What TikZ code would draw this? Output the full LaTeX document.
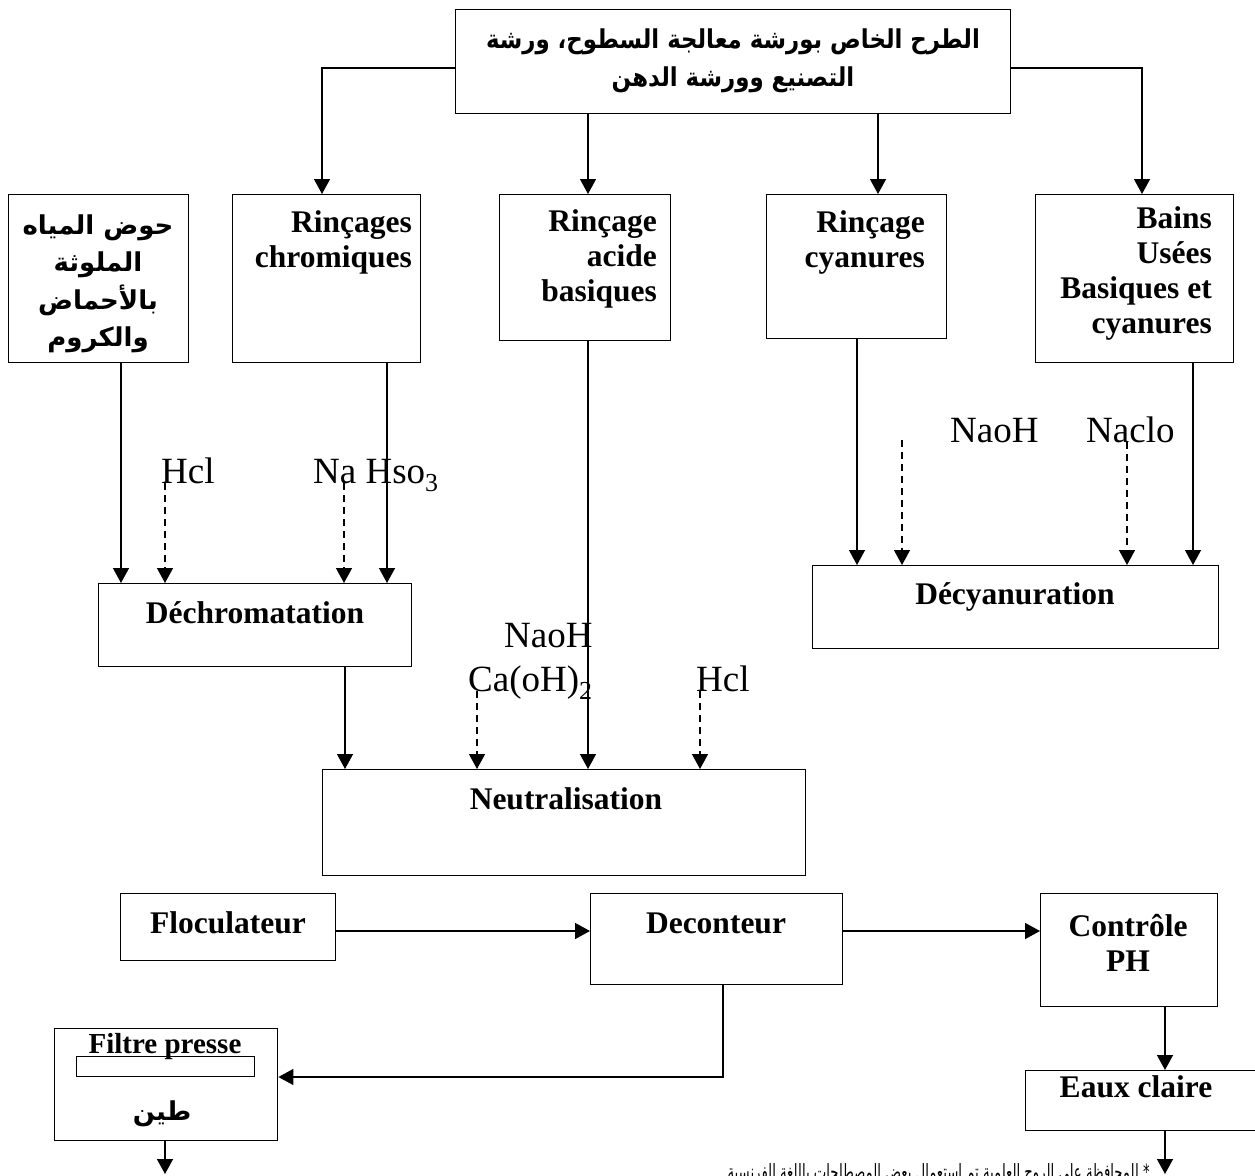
\documentclass[tikz,border=0pt]{standalone}
\usepackage{fontspec}
\usepackage{graphicx}
\setmainfont{Liberation Serif}
\newfontfamily\arabicfont[Script=Arabic]{DejaVu Sans}
\TeXXeTstate=1
\usetikzlibrary{arrows.meta}

% rectangle given by its two corners (x1,y1) and (x2,y2)
\newcommand\flowbox[5]{%
  \node[box, minimum width={(#4)-(#2)}, minimum height={(#5)-(#3)}] (#1) at (#2,#3) {};}

\begin{document}
\begin{tikzpicture}[x=1pt,y=-1pt,
  box/.style={draw, line width=1.4pt, inner sep=0pt, anchor=north west},
  lab/.style={font=\bfseries\fontsize{31.5}{35}\selectfont, inner sep=0pt},
  reag/.style={font=\fontsize{37}{40}\selectfont, inner sep=0pt, anchor=base west},
  ar/.style={font=\arabicfont\bfseries\fontsize{26}{37.5}\selectfont, inner sep=0pt, align=center},
  flow/.style={line width=1.4pt, -{Triangle[width=16pt,length=15pt]}},
  feed/.style={flow, dash pattern=on 7pt off 5pt}
]
\useasboundingbox (0,0) rectangle (1255,1175);
\fill[white] (0,0) rectangle (1255,1175);
\clip (0,0) rectangle (1255,1175);

% ---- boxes ----
\flowbox{top}{455}{9}{1010}{113}
\flowbox{arab}{8}{194}{188}{362}
\flowbox{chrom}{232}{194}{420}{362}
\flowbox{acide}{499}{194}{670}{340}
\flowbox{cyan}{766}{194}{946}{338}
\flowbox{bains}{1035}{194}{1233}{362}
\flowbox{dech}{98}{583}{411}{666}
\flowbox{decy}{812}{565}{1218}{648}
\flowbox{neut}{322}{769}{805}{875}
\flowbox{flocc}{120}{893}{335}{960}
\flowbox{decont}{590}{893}{842}{984}
\flowbox{ctrl}{1040}{893}{1217}{1006}
\flowbox{eaux}{1025}{1070}{1262}{1130}
\flowbox{filtre}{54}{1028}{277}{1140}
\flowbox{press}{76}{1056}{254}{1076}

% ---- box texts (multi-line nodes are placed by their last baseline) ----
\node[ar] (toptxt) at (733,61)
  {\scalebox{0.88}[1]{\beginR الطرح الخاص بورشة معالجة السطوح، ورشة\endR}\\
   \scalebox{0.88}[1]{\beginR التصنيع وورشة الدهن\endR}};
\node[ar] (arabtxt) at (98,284)
  {\beginR حوض المياه\endR\\\beginR الملوثة\endR\\\beginR بالأحماض\endR\\\beginR والكروم\endR};
\node[lab, align=right, anchor=base east] (chromtxt) at (412,267) {Rinçages\\chromiques};
\node[lab, align=right, anchor=base east] (acidetxt) at (657,301) {Rinçage\\acide\\basiques};
\node[lab, align=right, anchor=base east] (cyantxt) at (925,267) {Rinçage\\cyanures};
\node[lab, align=right, anchor=base east] (bainstxt) at (1212,333) {Bains\\Usées\\Basiques et\\cyanures};
\node[lab, anchor=base] (dechtxt) at (255,623) {Déchromatation};
\node[lab, anchor=base] (decytxt) at (1015,604) {Décyanuration};
\node[lab, anchor=base] (neuttxt) at (566,809) {Neutralisation};
\node[lab, anchor=base] (flocctxt) at (228,933) {Floculateur};
\node[lab, anchor=base] (deconttxt) at (716,933) {Deconteur};
\node[lab, align=center, anchor=base] (ctrltxt) at (1128,971) {Contrôle\\PH};
\node[lab, anchor=base] (eauxtxt) at (1136,1097) {Eaux claire};
\node[lab, anchor=base, font=\bfseries\fontsize{29}{33}\selectfont] (filtretxt) at (165,1053) {Filtre presse};
\node[ar] (tintxt) at (162,1114) {\beginR طين\endR};

% ---- reagents ----
\node[reag] (hcla) at (161,483) {Hcl};
\node[reag] (nahso) at (313,483) {Na Hso\textsubscript{3}};
\node[reag] (naoha) at (504,647) {NaoH};
\node[reag] (caoh) at (468,691) {Ca(oH)\textsubscript{2}};
\node[reag] (hclb) at (696,691) {Hcl};
\node[reag] (naohb) at (950,442) {NaoH};
\node[reag] (naclo) at (1086,442) {Naclo};
\coordinate (naohfeed) at (902,440);

% ---- connectors from the top box ----
\draw[flow] (top.west |- 0,68) -| (chrom.north -| 322,0);
\draw[flow] (top.south -| 588,0) -- (acide.north -| 588,0);
\draw[flow] (top.south -| 878,0) -- (cyan.north -| 878,0);
\draw[flow] (top.east |- 0,68) -| (bains.north -| 1142,0);

% ---- to Déchromatation ----
\draw[flow] (arab.south -| 121,0) -- (dech.north -| 121,0);
\draw[flow] (chrom.south -| 387,0) -- (dech.north -| 387,0);
\draw[feed] (hcla.base west -| 165,0) -- (dech.north -| 165,0);
\draw[feed] (nahso.base west -| 344,0) -- (dech.north -| 344,0);

% ---- to Décyanuration ----
\draw[flow] (cyan.south -| 857,0) -- (decy.north -| 857,0);
\draw[flow] (bains.south -| 1193,0) -- (decy.north -| 1193,0);
\draw[feed] (naohfeed) -- (decy.north -| naohfeed);
\draw[feed] (naclo.base west -| 1127,0) -- (decy.north -| 1127,0);

% ---- to Neutralisation ----
\draw[flow] (dech.south -| 345,0) -- (neut.north -| 345,0);
\draw[flow] (acide.south -| 588,0) -- (neut.north -| 588,0);
\draw[feed] (caoh.base west -| 477,0) -- (neut.north -| 477,0);
\draw[feed] (hclb.base west -| 700,0) -- (neut.north -| 700,0);

% ---- settling and outputs ----
\draw[flow] (flocc.east |- 0,931) -- (decont.west |- 0,931);
\draw[flow] (decont.east |- 0,931) -- (ctrl.west |- 0,931);
\draw[flow] (decont.south -| 723,0) |- (filtre.east |- 0,1077);
\draw[flow] (ctrl.south -| 1165,0) -- (eaux.north -| 1165,0);
\coordinate (eauxout) at (1165,1174);
\coordinate (boueout) at (165,1174);
\draw[flow] (eaux.south -| eauxout) -- (eauxout);
\draw[flow] (filtre.south -| boueout) -- (boueout);

% ---- footnote, running past the lower edge ----
\node[font=\arabicfont\fontsize{21}{24}\selectfont, anchor=base east, inner sep=0pt] (note) at (1150,1179)
  {\scalebox{0.63}[1]{\beginR * للمحافظة على الروح العلمية تم استعمال بعض المصطلحات باللغة الفرنسية\endR}};
\end{tikzpicture}
\end{document}
